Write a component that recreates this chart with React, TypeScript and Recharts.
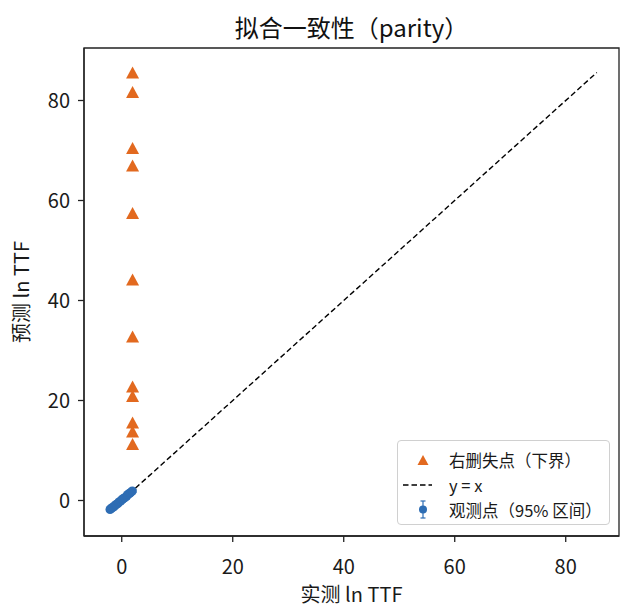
import React from 'react';
import { ScatterChart, Scatter, XAxis, YAxis, ErrorBar, ReferenceLine, ReferenceArea } from 'recharts';

// observed points (ln TTF, measured vs predicted) with 95% interval half-widths
const obsX = [-2.1, -1.9, -1.7, -1.5, -1.2, -1.0, -0.7, -0.5, -0.2, 0.1, 0.3, 0.6, 0.9, 1.1, 1.4, 1.6, 1.9];
const obsY = [-1.8, -1.6, -1.4, -1.3, -1.0, -0.8, -0.6, -0.3, -0.1, 0.2, 0.4, 0.6, 0.9, 1.2, 1.4, 1.6, 1.9];
const obsErr = [0.3, 0.3, 0.25, 0.3, 0.25, 0.3, 0.25, 0.3, 0.25, 0.3, 0.25, 0.3, 0.25, 0.3, 0.25, 0.3, 0.3];

// right-censored points (lower bounds)
const censX = [1.95, 1.95, 1.95, 1.95, 1.95, 1.95, 1.95, 1.95, 1.95, 1.95, 1.95, 1.95];
const censY = [85.6, 81.7, 70.5, 67.0, 57.5, 44.2, 32.8, 22.8, 20.9, 15.6, 13.8, 11.3];

// y = x reference line ends
const lineEnds = [-2.1, 85.6];

const xTicks = [0, 20, 40, 60, 80];
const yTicks = [0, 20, 40, 60, 80];
const xDomain = [-6.8, 89.6];
const yDomain = [-7.1, 90.5];

const ORANGE = '#e2691f';
const BLUE = '#2e6db4';
const FONT = '"Noto Sans CJK SC", "Noto Sans", sans-serif';

const obsData = obsX.map((x, i) => ({ x, y: obsY[i], err: obsErr[i] }));
const censData = censX.map((x, i) => ({ x, y: censY[i] }));

const Triangle = (props: any) => {
  const { cx, cy } = props;
  return <path d={`M${cx},${cy - 6} L${cx + 6.5},${cy + 6} L${cx - 6.5},${cy + 6} Z`} fill={ORANGE} />;
};

const Dot = (props: any) => <circle cx={props.cx} cy={props.cy} r={4.6} fill={BLUE} />;

const tickStyle = { fontSize: 20, fill: '#1a1a1a', fontFamily: FONT };
const labelStyle = { fontSize: 20, fill: '#1a1a1a', fontFamily: FONT };

export default function App() {
  return (
    <div style={{ position: 'absolute', left: 0, top: 0, width: 634, height: 615, background: '#fff', fontFamily: FONT }}>
      <div
        style={{
          position: 'absolute',
          left: 84,
          width: 535,
          top: 12,
          textAlign: 'center',
          fontSize: 24,
          lineHeight: '30px',
          color: '#111',
        }}
      >
        拟合一致性（parity）
      </div>
      <ScatterChart width={634} height={615} margin={{ top: 48, right: 15, left: 24, bottom: 29 }}>
        <XAxis
          type="number"
          dataKey="x"
          domain={xDomain}
          ticks={xTicks}
          allowDataOverflow
          height={50}
          tickSize={6}
          tickMargin={18}
          tick={tickStyle}
          stroke="#222"
          strokeWidth={1.3}
          label={{ value: '实测 ln TTF', position: 'bottom', offset: 2, style: labelStyle }}
        />
        <YAxis
          type="number"
          dataKey="y"
          domain={yDomain}
          ticks={yTicks}
          allowDataOverflow
          width={60}
          tickSize={6}
          tickMargin={8}
          tick={tickStyle}
          stroke="#222"
          strokeWidth={1.3}
          label={{ value: '预测 ln TTF', angle: -90, position: 'insideLeft', offset: -2, style: { ...labelStyle, textAnchor: 'middle' } }}
        />
        <ReferenceArea x1={xDomain[0]} x2={xDomain[1]} y1={yDomain[0]} y2={yDomain[1]} fill="none" stroke="#222" strokeWidth={1.3} ifOverflow="visible" />
        <ReferenceLine
          segment={[
            { x: lineEnds[0], y: lineEnds[0] },
            { x: lineEnds[1], y: lineEnds[1] },
          ]}
          stroke="#000"
          strokeWidth={1.4}
          strokeDasharray="5.5 3"
        />
        <Scatter data={censData} shape={Triangle} isAnimationActive={false} />
        <Scatter data={obsData} shape={Dot} isAnimationActive={false}>
          <ErrorBar dataKey="err" direction="y" width={4} stroke={BLUE} strokeWidth={1.2} />
        </Scatter>
      </ScatterChart>
      <div
        style={{
          position: 'absolute',
          left: 397,
          top: 440,
          width: 211,
          height: 83,
          border: '1px solid #d0d0d0',
          borderRadius: 4,
          background: 'rgba(255,255,255,0.85)',
          fontSize: 16.5,
          color: '#1a1a1a',
        }}
      >
        {[
          { label: '右删失点（下界）', kind: 'tri' },
          { label: 'y = x', kind: 'line' },
          { label: '观测点（95% 区间）', kind: 'dot' },
        ].map((row, i) => (
          <div key={row.kind} style={{ position: 'absolute', left: 0, top: 7 + i * 25, height: 24, display: 'flex', alignItems: 'center' }}>
            <svg width={51} height={24}>
              {row.kind === 'tri' && <path d="M25,7 L30.5,17 L19.5,17 Z" fill={ORANGE} />}
              {row.kind === 'line' && <line x1={5} x2={34} y1={12} y2={12} stroke="#000" strokeWidth={1.4} strokeDasharray="5.5 3" />}
              {row.kind === 'dot' && (
                <g stroke={BLUE} strokeWidth={1.2}>
                  <line x1={25} x2={25} y1={3} y2={20} />
                  <line x1={22.5} x2={27.5} y1={3} y2={3} />
                  <line x1={22.5} x2={27.5} y1={20} y2={20} />
                  <circle cx={25} cy={11.5} r={4} fill={BLUE} stroke="none" />
                </g>
              )}
            </svg>
            <span style={{ whiteSpace: 'nowrap' }}>{row.label}</span>
          </div>
        ))}
      </div>
    </div>
  );
}
